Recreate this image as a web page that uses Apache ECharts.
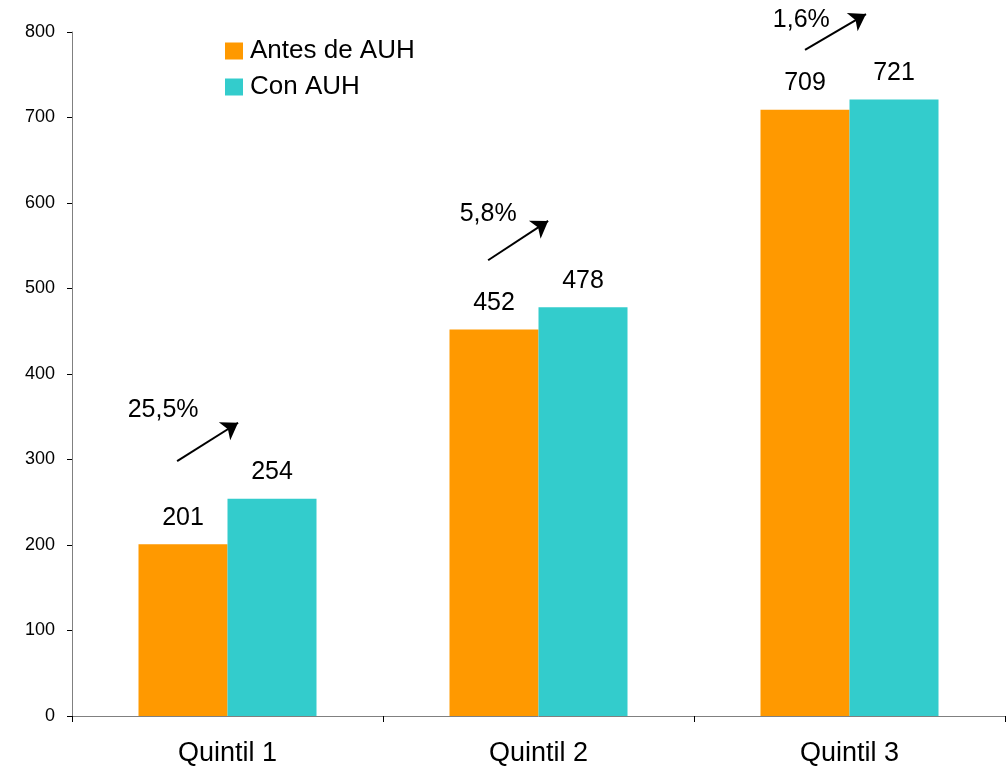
<!DOCTYPE html>
<html>
<head>
<meta charset="utf-8">
<script src="https://cdn.jsdelivr.net/npm/echarts@6/dist/echarts.min.js"></script>
<style>html,body{margin:0;padding:0;background:#fff;}#c{width:1007px;height:768px;}</style>
</head>
<body>
<div id="c"></div>
<script>
var categories = ['Quintil 1', 'Quintil 2', 'Quintil 3'];
var antes = [201, 452, 709];
var con = [254, 478, 721];
var pctLabels = ['25,5%', '5,8%', '1,6%'];
// annotation positions in data units (x: continuous category index 0..3, y: value)
var arrowStart = [[0.338, 298], [1.338, 533], [2.357, 779]];
var arrowEnd = [[0.534, 343], [1.531, 579], [2.553, 821]];
var pctPos = [[0.293, 358], [1.338, 587], [2.345, 814]];
var yTicks = [0, 100, 200, 300, 400, 500, 600, 700, 800];

var chart = echarts.init(document.getElementById('c'));
var font = 'Liberation Sans, Arial, sans-serif';
chart.setOption({
  animation: false,
  textStyle: { fontFamily: font },
  grid: { left: 72, right: 2, top: 32, bottom: 52, containLabel: false },
  legend: {
    orient: 'vertical', left: 220, top: 33,
    icon: 'rect',
    itemWidth: 18, itemHeight: 17, itemGap: 10,
    textStyle: { fontSize: 26, color: '#000', fontFamily: font, padding: [0, 0, 0, 2] },
    data: ['Antes de AUH', 'Con AUH']
  },
  xAxis: [{
    type: 'category', data: categories,
    axisLine: { lineStyle: { color: '#808080', width: 1 } },
    axisTick: { show: true, length: 6, lineStyle: { color: '#000' } },
    axisLabel: { fontSize: 27, color: '#000', margin: 24, fontFamily: font }
  }, {
    type: 'value', min: 0, max: 3, show: false
  }],
  yAxis: {
    type: 'value', min: 0, max: 800, interval: 100,
    splitLine: { show: false },
    axisLine: { show: true, lineStyle: { color: '#808080', width: 1 } },
    axisTick: { show: true, length: 5, lineStyle: { color: '#000' } },
    axisLabel: { fontSize: 18, color: '#000', margin: 17, fontFamily: font,
      formatter: function (v) { return yTicks.indexOf(v) >= 0 ? String(v) : ''; } }
  },
  series: [{
    name: 'Antes de AUH', type: 'bar', data: antes, barWidth: 89, barGap: '0%',
    itemStyle: { color: '#FF9900' },
    label: { show: true, position: 'top', distance: 14, fontSize: 25, color: '#000', fontFamily: font }
  }, {
    name: 'Con AUH', type: 'bar', data: con, barWidth: 89, barGap: '0%',
    itemStyle: { color: '#33CCCC' },
    label: { show: true, position: 'top', distance: 14, fontSize: 25, color: '#000', fontFamily: font }
  }, {
    name: 'ann', type: 'scatter', xAxisIndex: 1, clip: false, symbolSize: 0,
    silent: true, itemStyle: { opacity: 1 },
    data: pctPos.map(function (p, i) { return { value: p, label: { formatter: pctLabels[i] } }; }),
    label: { show: true, position: 'inside', fontSize: 25, color: '#000', fontFamily: font }
  }, {
    name: 'arrows', type: 'lines', coordinateSystem: 'cartesian2d', xAxisIndex: 1,
    clip: false, silent: true,
    symbol: ['none', 'arrow'], symbolSize: 16,
    lineStyle: { color: '#000', width: 2, opacity: 1 },
    data: arrowStart.map(function (s, i) { return { coords: [s, arrowEnd[i]] }; })
  }]
});
</script>
</body>
</html>
